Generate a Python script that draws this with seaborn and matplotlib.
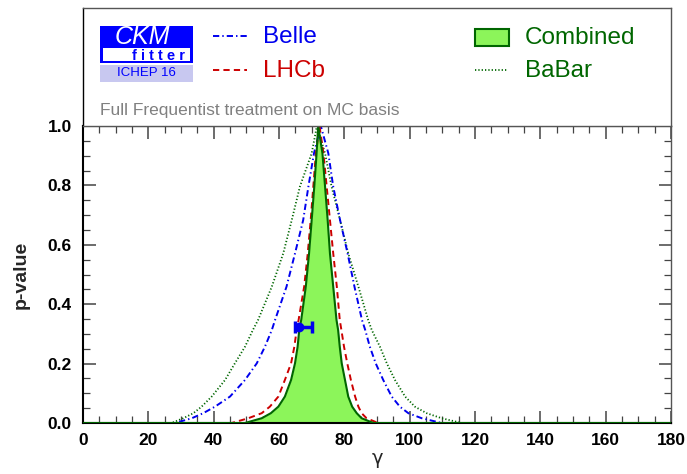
import numpy as np
import pandas as pd
import matplotlib
matplotlib.use('Agg')
import matplotlib.pyplot as plt
from matplotlib.patches import Rectangle
from matplotlib.ticker import MultipleLocator
import seaborn as sns

# --- Data ---
combined_gamma = [0, 49.6, 54.7, 57.5, 59.8, 61.8, 63.7, 64.9, 65.7, 66.2, 66.8, 68.2, 69.2, 70.0, 70.8,
                  71.5, 72.0, 73.3, 74.1, 74.9, 75.6, 76.6, 77.6, 78.1, 78.6, 79.2, 80.2, 81.2, 82.4,
                  83.8, 85.3, 88.9, 180]
combined_p = [0, 0, 0.016, 0.033, 0.055, 0.089, 0.145, 0.201, 0.257, 0.313, 0.347, 0.459, 0.571, 0.683,
              0.796, 0.908, 1.0, 0.908, 0.796, 0.683, 0.571, 0.459, 0.347, 0.313, 0.257, 0.201, 0.145,
              0.089, 0.055, 0.033, 0.016, 0, 0]

lhcb_gamma = [0, 45.5, 50.6, 54.7, 57.2, 59.8, 61.8, 63.7, 64.7, 65.4, 66.0, 67.7, 68.8, 69.7, 70.5,
              71.3, 72.4, 73.6, 74.6, 75.6, 76.6, 77.7, 78.6, 79.1, 79.9, 80.9, 82.0, 83.3, 84.3,
              85.3, 86.8, 90.4, 180]
lhcb_p = [0, 0, 0.016, 0.033, 0.055, 0.089, 0.145, 0.201, 0.257, 0.313, 0.347, 0.459, 0.571, 0.683,
          0.796, 0.908, 1.0, 0.908, 0.796, 0.683, 0.571, 0.459, 0.347, 0.313, 0.257, 0.201, 0.145,
          0.089, 0.055, 0.033, 0.016, 0, 0]

belle_gamma = [0, 28.2, 33.3, 36.8, 40.4, 45.0, 49.6, 53.2, 55.7, 57.8, 58.8, 62.3, 64.9, 67.4, 69.0,
               70.7, 72.8, 75.1, 76.6, 78.7, 81.0, 83.1, 85.4, 86.4, 87.8, 89.6, 91.9, 94.5, 97.0,
               99.6, 103.7, 109.8, 180]
belle_p = [0, 0, 0.016, 0.033, 0.055, 0.089, 0.145, 0.201, 0.257, 0.313, 0.347, 0.459, 0.571, 0.683,
           0.796, 0.908, 1.0, 0.908, 0.796, 0.683, 0.571, 0.459, 0.347, 0.313, 0.257, 0.201, 0.145,
           0.089, 0.055, 0.033, 0.016, 0, 0]

babar_gamma = [0, 27.1, 30.7, 33.8, 36.3, 39.4, 43.5, 46.5, 49.6, 52.0, 53.6, 57.8, 61.3, 63.9, 66.4,
               70.0, 71.6, 74.1, 76.1, 78.7, 81.2, 84.3, 87.3, 88.4, 90.9, 93.0, 95.5, 98.6, 101.6,
               105.2, 109.8, 115.9, 180]
babar_p = [0, 0, 0.016, 0.033, 0.055, 0.089, 0.145, 0.201, 0.257, 0.313, 0.347, 0.459, 0.571, 0.683,
           0.796, 0.908, 1.0, 0.908, 0.796, 0.683, 0.571, 0.459, 0.347, 0.313, 0.257, 0.201, 0.145,
           0.089, 0.055, 0.033, 0.016, 0, 0]

# blue point with asymmetric error bar
point_gamma = 66.2
point_p = 0.323
point_err = [[1.2], [3.9]]

x_ticks = [0, 20, 40, 60, 80, 100, 120, 140, 160, 180]
y_ticks = [0.0, 0.2, 0.4, 0.6, 0.8, 1.0]

BLUE = '#0000ee'
RED = '#cc0000'
DGREEN = '#006600'
LIME = '#8cf55a'

sns.set_theme(style='ticks')
plt.rcParams['font.family'] = ['Liberation Sans', 'DejaVu Sans']
plt.rcParams['lines.scale_dashes'] = False

fig = plt.figure(figsize=(6.87, 4.74), dpi=100)
W, H = 687, 474
ax = fig.add_axes([83 / W, (H - 423) / H, (671 - 83) / W, (423 - 126) / H])
top = fig.add_axes([83 / W, (H - 126) / H, (671 - 83) / W, (126 - 8) / H])

# --- Curves ---
df_c = pd.DataFrame({'gamma': combined_gamma, 'p': combined_p})
ax.fill_between(df_c['gamma'], 0, df_c['p'], color=LIME, lw=0, zorder=1)
sns.lineplot(data=df_c, x='gamma', y='p', ax=ax, color=DGREEN, lw=1.5, estimator=None, zorder=4)

sns.lineplot(x=babar_gamma, y=babar_p, ax=ax, color=DGREEN, lw=1.3, estimator=None,
             linestyle=(0, (0.9, 1.5)), zorder=3)
sns.lineplot(x=belle_gamma, y=belle_p, ax=ax, color=BLUE, lw=1.4, estimator=None,
             linestyle=(0, (4.5, 2.2, 1.0, 2.2)), zorder=3)
sns.lineplot(x=lhcb_gamma, y=lhcb_p, ax=ax, color=RED, lw=1.4, estimator=None,
             linestyle=(0, (4.5, 3.0)), zorder=3)

ax.errorbar(point_gamma, point_p, xerr=point_err, fmt='o', color=BLUE, ms=6,
            elinewidth=2.5, capsize=4, capthick=2.5, zorder=6)

ax.set_xlim(0, 180)
ax.set_ylim(0, 1.0)
ax.set_xticks(x_ticks)
ax.set_yticks(y_ticks)
ax.set_xticklabels([str(t) for t in x_ticks], fontweight='bold', fontsize=12.5)
ax.set_yticklabels([f'{t:.1f}' for t in y_ticks], fontweight='bold', fontsize=12.5)
ax.xaxis.set_minor_locator(MultipleLocator(5))
ax.yaxis.set_minor_locator(MultipleLocator(0.05))
ax.tick_params(which='both', direction='in', top=True, right=True, color='#444444')
ax.tick_params(which='major', length=9, width=1.1)
ax.tick_params(which='minor', length=5, width=0.9)
ax.tick_params(axis='x', which='major', pad=7, labelcolor='black')
ax.tick_params(axis='y', which='major', pad=8, labelcolor='black')
for s in ['left', 'bottom', 'top']:
    ax.spines[s].set_color('black')
    ax.spines[s].set_linewidth(1.5)
ax.spines['right'].set_color('#555555')
ax.spines['right'].set_linewidth(1.0)
ax.set_xlabel('γ', fontsize=14, family=['DejaVu Sans'], labelpad=1)
ax.set_ylabel('p-value', fontsize=14, fontweight='bold', labelpad=13)

# --- Top legend box (pixel coordinates) ---
top.set_xlim(83, 671)
top.set_ylim(126, 8)
top.set_xticks([])
top.set_yticks([])
for s in top.spines.values():
    s.set_color('#555555')
    s.set_linewidth(1.0)
top.spines['left'].set_color('black')

# CKMfitter logo
top.add_patch(Rectangle((100, 26), 93, 37, color='#0000ff', lw=0))
top.add_patch(Rectangle((102.5, 48), 87.5, 13, color='white', lw=0))
top.add_patch(Rectangle((100, 65), 93, 17, color='#c8c8f0', lw=0))
top.text(142, 37, 'CKM', color='white', fontsize=18, style='italic', ha='center', va='center')
top.text(158, 55.5, 'f i t t e r', color='#0000ff', fontsize=10.5, fontweight='bold',
         ha='center', va='center')
top.text(146, 73.5, 'ICHEP 16', color='#0000ff', fontsize=9.5, ha='center', va='center')

# legend entries
top.plot([213, 247], [36, 36], color=BLUE, lw=1.4, linestyle=(0, (4.5, 2.2, 1.0, 2.2)))
top.text(263, 37, 'Belle', color=BLUE, fontsize=17.5, va='center', ha='left')
top.plot([213, 247], [70, 70], color=RED, lw=1.4, linestyle=(0, (4.5, 3.0)))
top.text(263, 71, 'LHCb', color=RED, fontsize=17.5, va='center', ha='left')
top.add_patch(Rectangle((475, 29), 34, 17, facecolor=LIME, edgecolor=DGREEN, lw=1.5))
top.text(525, 37.5, 'Combined', color=DGREEN, fontsize=17.5, va='center', ha='left')
top.plot([475, 508], [70, 70], color=DGREEN, lw=1.3, linestyle=(0, (0.9, 1.5)))
top.text(525, 71, 'BaBar', color=DGREEN, fontsize=17.5, va='center', ha='left')

top.text(100, 110, 'Full Frequentist treatment on MC basis', color='#808080', fontsize=12.5,
         va='center', ha='left')

fig.savefig('out.png', dpi=100)
